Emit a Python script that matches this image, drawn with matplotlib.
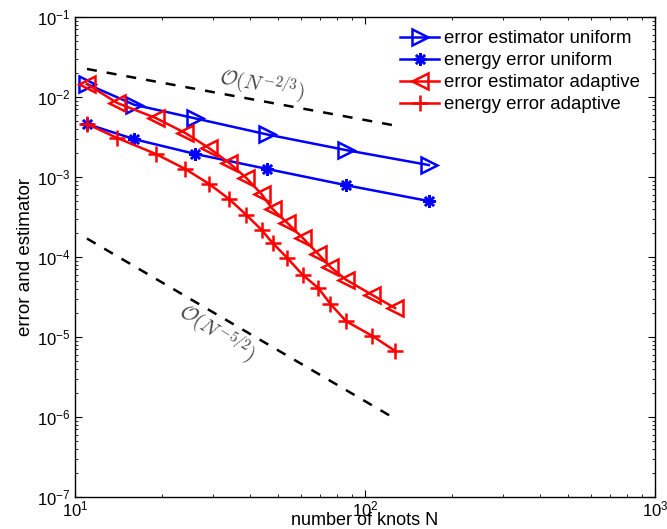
import numpy as np
import matplotlib
matplotlib.use("Agg")
import matplotlib.pyplot as plt

plt.rcParams['font.family'] = ['Liberation Sans', 'DejaVu Sans']
plt.rcParams['mathtext.fontset'] = 'custom'
plt.rcParams['mathtext.rm'] = 'Liberation Sans'
plt.rcParams['mathtext.it'] = 'Liberation Sans:italic'

# uniform refinement
n_uni = [11, 16, 26, 46, 86, 166]
est_uni = [1.45e-2, 8.0e-3, 5.4e-3, 3.4e-3, 2.17e-3, 1.41e-3]
err_uni = [4.6e-3, 2.97e-3, 1.94e-3, 1.26e-3, 7.9e-4, 5.0e-4]

# adaptive refinement
n_ada = [11, 14, 19, 24, 29, 34, 39, 44, 48, 54, 61, 69, 76, 86, 106, 127]
est_ada = [1.45e-2, 8.4e-3, 5.46e-3, 3.55e-3, 2.30e-3, 1.50e-3, 9.7e-4, 6.1e-4,
           3.98e-4, 2.66e-4, 1.73e-4, 1.09e-4, 7.5e-5, 5.2e-5, 3.35e-5, 2.3e-5]
err_ada = [4.6e-3, 3.07e-3, 1.94e-3, 1.26e-3, 8.2e-4, 5.3e-4, 3.35e-4, 2.18e-4,
           1.50e-4, 9.7e-5, 5.96e-5, 4.1e-5, 2.59e-5, 1.58e-5, 1.03e-5, 6.7e-6]

# reference slopes (end points)
ref1_n = [11, 129]
ref1_y = [2.24e-2, 4.35e-3]
ref2_n = [11, 129]
ref2_y = [1.7e-4, 9.2e-7]

fig = plt.figure(figsize=(6.67, 5.29), dpi=100)
ax = fig.add_axes([0.1124, 0.0605, 0.8696, 0.9074])

lw = 1.8
ax.loglog(n_uni, est_uni, '-', color='b', lw=lw, marker='>', ms=12, mfc='none', mew=1.8,
          label='error estimator uniform')
ax.loglog(n_uni, err_uni, '-', color='b', lw=lw, marker=(8, 2, 0), ms=9, mew=1.8,
          label='energy error uniform')
ax.loglog(n_ada, est_ada, '-', color='r', lw=lw, marker='<', ms=12, mfc='none', mew=1.8,
          label='error estimator adaptive')
ax.loglog(n_ada, err_ada, '-', color='r', lw=lw, marker='+', ms=11, mew=1.8,
          label='energy error adaptive')

ax.loglog(ref1_n, ref1_y, '--', color='k', lw=1.8, dashes=(4, 4))
ax.loglog(ref2_n, ref2_y, '--', color='k', lw=1.8, dashes=(4, 4))

ax.text(44, 1.45e-2, r'$\mathcal{O}(N^{-2/3})$', fontsize=15, color='#444444',
        rotation=-10, ha='center', va='center', math_fontfamily='cm')
ax.text(30.8, 1.15e-5, r'$\mathcal{O}(N^{-5/2})$', fontsize=15, color='#444444',
        rotation=-33, ha='center', va='center', math_fontfamily='cm')

ax.set_xlim(10, 1000)
ax.set_ylim(1e-7, 1e-1)
ax.tick_params(which='both', direction='in', top=True, right=True, labelsize=12)
ax.tick_params(axis='x', pad=1.5)
ax.tick_params(which='major', length=5)
ax.tick_params(which='minor', length=2.5)
for s in ax.spines.values():
    s.set_linewidth(1.0)

ax.set_xlabel('number of knots N', fontsize=13)
ax.xaxis.label.set_va('baseline')
ax.xaxis.set_label_coords(0.5, -0.0583)
ax.set_ylabel('error and estimator', fontsize=13.5, labelpad=2)

ax.legend(loc='upper right', bbox_to_anchor=(1 - 4 / 580, 1 - 2 / 480), fontsize=13.4,
          frameon=False, handlelength=2.1, handletextpad=0.25, labelspacing=0.27,
          borderaxespad=0.3, borderpad=0.3)

fig.savefig('out.png', dpi=100)
